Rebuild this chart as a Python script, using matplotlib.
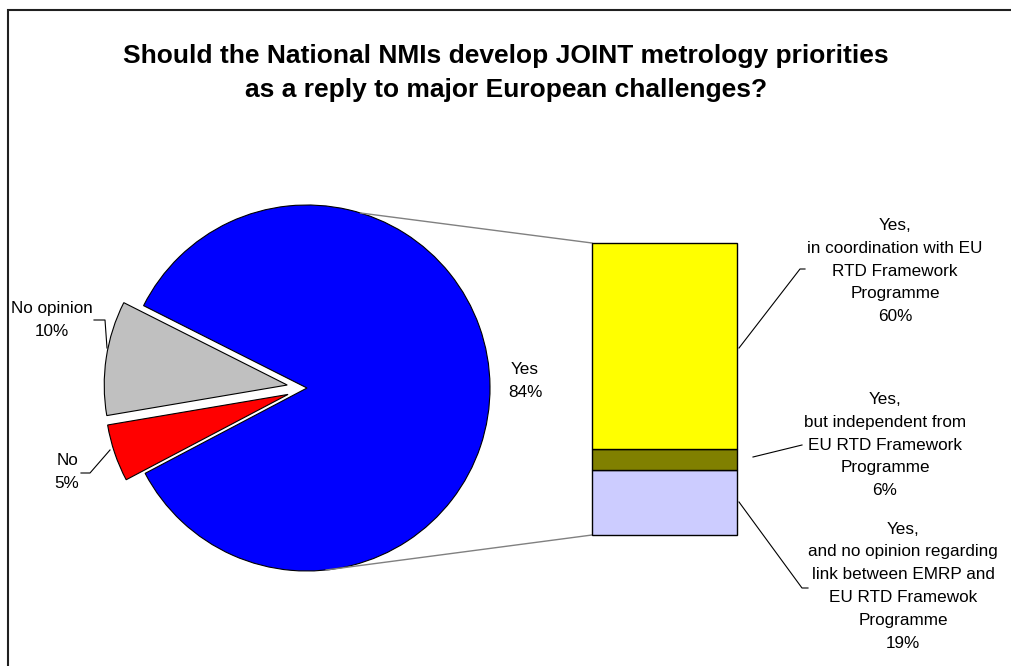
import numpy as np
import matplotlib
matplotlib.use('Agg')
import matplotlib.pyplot as plt
from matplotlib.patches import Rectangle

plt.rcParams['font.family'] = ['Liberation Sans', 'DejaVu Sans']

# Survey answers (pie)
pie_labels = ['Yes', 'No opinion', 'No']
pie_values = [84, 10, 5]
pie_colors = ['#0000FF', '#C0C0C0', '#FF0000']

# Breakdown of "Yes" (stacked bar, bottom to top)
bar_labels = ['Yes,\nand no opinion regarding\nlink between EMRP and\nEU RTD Framewok\nProgramme',
              'Yes,\nbut independent from\nEU RTD Framework\nProgramme',
              'Yes,\nin coordination with EU\nRTD Framework\nProgramme']
bar_values = [19, 6, 60]
bar_colors = ['#CCCCFF', '#808000', '#FFFF00']

title = ('Should the National NMIs develop JOINT metrology priorities\n'
         'as a reply to major European challenges?')

W, H = 1011, 666
fig = plt.figure(figsize=(W / 100, H / 100), dpi=100)
ax = fig.add_axes([0, 0, 1, 1])


def py(y):
    # pixel row (top-down) -> axes y (bottom-up)
    return H - y


cx, cy, r = 307, py(388), 183
# explode is an absolute offset here (same units as the radius)
ax.pie(pie_values, colors=pie_colors, startangle=-152.2, counterclock=True,
       explode=[0, 20, 20], center=(cx, cy), radius=r,
       wedgeprops=dict(edgecolor='black', linewidth=0.8))
ax.set_xlim(0, W)
ax.set_ylim(0, H)
ax.set_aspect('equal')
ax.axis('off')

# outer chart frame
ax.add_patch(Rectangle((8, -40), W + 40, py(10) + 40, fill=False,
                       edgecolor='#202020', linewidth=1.5, clip_on=True))

ax.text(506, py(73), title, ha='center', va='center', fontsize=19,
        fontweight='bold', linespacing=1.48)

lab_kw = dict(ha='center', va='center', fontsize=12.3, linespacing=1.65, color='black')

# pie labels
ax.text(525, py(381), f'{pie_labels[0]}\n{pie_values[0]}%', **lab_kw)
ax.text(52, py(320), f'{pie_labels[1]}\n{pie_values[1]}%', **lab_kw)
ax.text(67, py(472), f'{pie_labels[2]}\n{pie_values[2]}%', **lab_kw)
ax.plot([94, 105, 107], [py(320), py(320), py(348)], color='black', lw=0.8)
ax.plot([81, 90, 110], [py(473), py(473), py(450)], color='black', lw=0.8)

# stacked bar of the "Yes" answers
bx0, bx1, by0, by1 = 592, 737, 243, 535
bax = fig.add_axes([bx0 / W, py(by1) / H, (bx1 - bx0) / W, (by1 - by0) / H])
bottom = 0
for v, c in zip(bar_values, bar_colors):
    bax.bar(0, v, bottom=bottom, width=1, color=c, edgecolor='black', linewidth=1)
    bottom += v
bax.set_xlim(-0.5, 0.5)
bax.set_ylim(0, sum(bar_values))
bax.axis('off')
for p in bax.patches:
    p.set_clip_on(False)

# connector lines from the pie to the bar
a_top, a_bot = np.deg2rad(73), np.deg2rad(-84)
ax.plot([cx + r * np.cos(a_top), bx0], [cy + r * np.sin(a_top), py(by0)],
        color='#808080', lw=1)
ax.plot([cx + r * np.cos(a_bot), bx0], [cy + r * np.sin(a_bot), py(by1)],
        color='#808080', lw=1)

# bar labels with leader lines
pcts = [f'{v}%' for v in bar_values]
ax.text(895, py(271), f'{bar_labels[2]}\n{pcts[2]}', **lab_kw)
ax.plot([805, 800, 739], [py(269), py(269), py(348)], color='black', lw=0.8)
ax.text(885, py(445), f'{bar_labels[1]}\n{pcts[1]}', **lab_kw)
ax.plot([802, 753], [py(445), py(457)], color='black', lw=0.8)
ax.text(903, py(586), f'{bar_labels[0]}\n{pcts[0]}', **lab_kw)
ax.plot([739, 802, 808], [py(502), py(588), py(588)], color='black', lw=0.8)

fig.savefig('out.png', dpi=100)
